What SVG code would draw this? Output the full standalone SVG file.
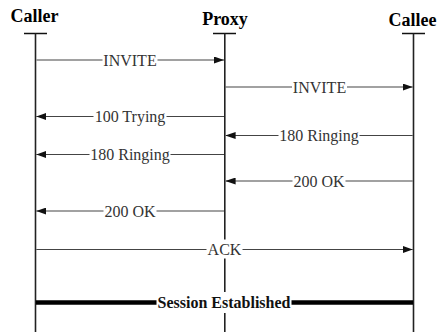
<svg xmlns="http://www.w3.org/2000/svg" width="443" height="332" viewBox="0 0 443 332">
  <defs>
    <marker id="arrow" viewBox="0 0 10 7" refX="10" refY="3.5" markerWidth="10" markerHeight="7" markerUnits="userSpaceOnUse" orient="auto">
      <path d="M0,0 L10,3.5 L0,7 z" fill="#111"/>
    </marker>
    <style>
      .title { font-family: "Liberation Serif", "Times New Roman", serif; font-weight: bold; font-size: 18px; fill: #000; text-anchor: middle; }
      .tick { stroke: #111; stroke-width: 1.5; }
      .life { stroke: #222; stroke-width: 1.6; }
      .msg { stroke: #444; stroke-width: 1.1; fill: none; marker-end: url(#arrow); }
      .session { stroke: #000; stroke-width: 4.5; }
      .mask { fill: #fff; }
      .label { font-family: "Liberation Serif", "Times New Roman", serif; font-size: 16px; fill: #333; text-anchor: middle; }
      .label-bold { font-family: "Liberation Serif", "Times New Roman", serif; font-size: 16px; font-weight: bold; fill: #111; text-anchor: middle; }
    </style>
  </defs>

  <rect width="443" height="332" fill="#fff"/>

  <!-- participants -->
  <g id="caller">
    <text class="title" x="34.5" y="22">Caller</text>
    <line class="tick" x1="24" y1="33.5" x2="47" y2="33.5"/>
    <line class="life" x1="35.5" y1="33.5" x2="35.5" y2="332"/>
  </g>
  <g id="proxy">
    <text class="title" x="225" y="24.5">Proxy</text>
    <line class="tick" x1="213" y1="33.5" x2="236" y2="33.5"/>
    <line class="life" x1="224.8" y1="33.5" x2="224.8" y2="332"/>
  </g>
  <g id="callee">
    <text class="title" x="412.5" y="25.5">Callee</text>
    <line class="tick" x1="402" y1="33.5" x2="425" y2="33.5"/>
    <line class="life" x1="413.5" y1="33.5" x2="413.5" y2="332"/>
  </g>

  <!-- messages -->
  <g id="connectors">
    <!-- INVITE caller -> proxy -->
    <line class="msg" x1="36.5" y1="60" x2="224" y2="60"/>
    <rect class="mask" x="102.5" y="52" width="55" height="16"/>
    <text class="label" x="130" y="65.5">INVITE</text>

    <!-- INVITE proxy -> callee -->
    <line class="msg" x1="225.5" y1="87" x2="412.7" y2="87"/>
    <rect class="mask" x="292" y="79" width="55" height="16"/>
    <text class="label" x="319.5" y="92.5">INVITE</text>

    <!-- 100 Trying proxy -> caller -->
    <line class="msg" x1="224" y1="116.5" x2="36.3" y2="116.5"/>
    <rect class="mask" x="93.5" y="108.5" width="73" height="16"/>
    <text class="label" x="130" y="122">100 Trying</text>

    <!-- 180 Ringing callee -> proxy -->
    <line class="msg" x1="412.7" y1="135.5" x2="225.6" y2="135.5"/>
    <rect class="mask" x="278.5" y="127.5" width="81" height="16"/>
    <text class="label" x="319" y="141">180 Ringing</text>

    <!-- 180 Ringing proxy -> caller -->
    <line class="msg" x1="224" y1="154.5" x2="36.3" y2="154.5"/>
    <rect class="mask" x="89.5" y="146.5" width="81" height="16"/>
    <text class="label" x="130" y="160">180 Ringing</text>

    <!-- 200 OK callee -> proxy -->
    <line class="msg" x1="412.7" y1="181" x2="225.6" y2="181"/>
    <rect class="mask" x="292.5" y="173" width="53" height="16"/>
    <text class="label" x="319" y="186.5">200 OK</text>

    <!-- 200 OK proxy -> caller -->
    <line class="msg" x1="224" y1="211" x2="36.3" y2="211"/>
    <rect class="mask" x="103.5" y="203" width="53" height="16"/>
    <text class="label" x="130" y="216.5">200 OK</text>

    <!-- ACK caller -> callee, crossing the proxy lifeline -->
    <line class="msg" x1="36.3" y1="249.5" x2="412.7" y2="249.5"/>
    <rect class="mask" x="206.5" y="239.5" width="36" height="19"/>
    <text class="label" x="224.5" y="255">ACK</text>

    <!-- media session -->
    <line class="session" x1="36" y1="302.5" x2="413" y2="302.5"/>
    <rect class="mask" x="156.5" y="292" width="135" height="21"/>
    <text class="label-bold" x="224" y="308">Session Established</text>
  </g>
</svg>
